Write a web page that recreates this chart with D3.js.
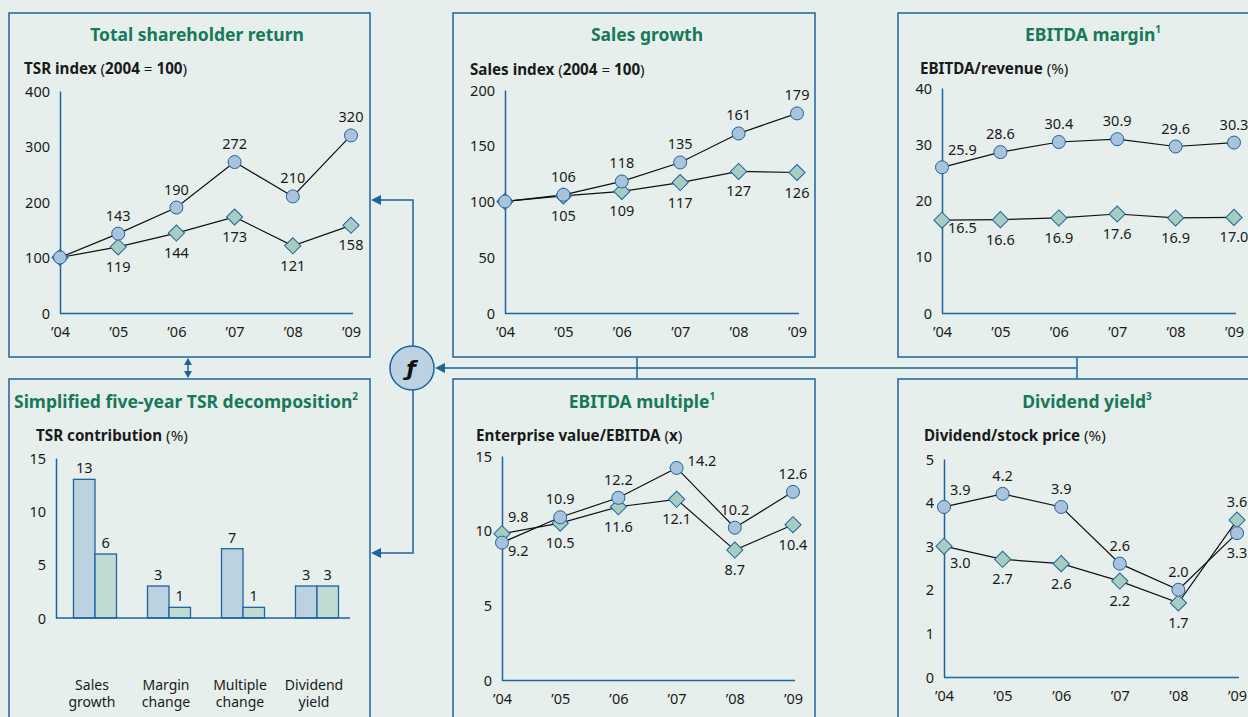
<!DOCTYPE html>
<html><head><meta charset="utf-8">
<script src="https://cdn.jsdelivr.net/npm/d3@7"></script>
<style>
html,body{margin:0;padding:0;background:#e6efec;}
svg{display:block;}
text{font-family:"Noto Sans",sans-serif;fill:#1a1a1a;}
</style></head>
<body>
<svg id="c" width="1248" height="717"></svg>
<script>
// ---------------- DATA ----------------
const years = ["\u201904","\u201905","\u201906","\u201907","\u201908","\u201909"];

const tsrCompany = [100,143,190,272,210,320];
const tsrPeer    = [100,119,144,173,121,158];
const tsrTicks   = [0,100,200,300,400];

const salesCompany = [100,106,118,135,161,179];
const salesPeer    = [100,105,109,117,127,126];
const salesTicks   = [0,50,100,150,200];

const marginCompany = [25.9,28.6,30.4,30.9,29.6,30.3];
const marginPeer    = [16.5,16.6,16.9,17.6,16.9,17.0];
const marginTicks   = [0,10,20,30,40];

const multipleCompany = [9.2,10.9,12.2,14.2,10.2,12.6];
const multiplePeer    = [9.8,10.5,11.6,12.1,8.7,10.4];
const multipleTicks   = [0,5,10,15];

const yieldCompany = [3.9,4.2,3.9,2.6,2.0,3.3];
const yieldPeer    = [3.0,2.7,2.6,2.2,1.7,3.6];
const yieldTicks   = [0,1,2,3,4,5];

const decompCategories = [["Sales","growth"],["Margin","change"],["Multiple","change"],["Dividend","yield"]];
const decompCompany = [13,3,6.5,3];
const decompPeer    = [6,1,1,3];
const decompTicks   = [0,5,10,15];

// ---------------- STYLE ----------------
const BLUE = "#1f63a0";
const GREEN_T = "#17785a";
const CIRCLE_FILL = "#a9c3da";
const DIAMOND_FILL = "#a6cdbf";
const BAR_BLUE = "#bcd2e1";
const BAR_GREEN = "#c0dbd2";

const svg = d3.select("#c");

// label placement offsets
const PL = {
  a:  {dx:0,  dy:-13, anchor:"middle"},
  b:  {dx:0,  dy:25,  anchor:"middle"},
  ru: {dx:6,  dy:-12, anchor:"start"},
  rd: {dx:6,  dy:13,  anchor:"start"},
  rdb:{dx:6,  dy:22,  anchor:"start"},
  r:  {dx:11, dy:-2,  anchor:"start"},
  n:  null
};

function drawBox(x,y,w,h){
  svg.append("rect").attr("x",x).attr("y",y).attr("width",w).attr("height",h)
    .attr("fill","none").attr("stroke",BLUE).attr("stroke-width",1.5);
}
function drawTitle(cx,y,txt,sup){
  const t = svg.append("text").attr("x",cx).attr("y",y).attr("text-anchor","middle")
    .style("font-size","17.5px").style("font-weight","700").style("fill",GREEN_T);
  t.append("tspan").text(txt).style("fill",GREEN_T);
  if(sup) t.append("tspan").text(sup).attr("dy",-8).style("font-size","10px").style("fill",GREEN_T);
}
function drawSubtitle(x,y,parts){
  const t = svg.append("text").attr("x",x).attr("y",y).style("font-size","15.2px");
  parts.forEach(p=>t.append("tspan").text(p[0]).style("font-weight",p[1]?"700":"400"));
}

function linePanel(cfg){
  drawBox(...cfg.box);
  drawTitle(cfg.titleX, cfg.titleY, cfg.title, cfg.sup);
  drawSubtitle(cfg.subX, cfg.subY, cfg.sub);
  const x = d3.scalePoint().domain(years).range(cfg.xr);
  const y = d3.scaleLinear().domain([cfg.ticks[0], cfg.ticks[cfg.ticks.length-1]]).range(cfg.yr);
  const g = svg.append("g");
  // y axis
  const ya = g.append("g").attr("transform",`translate(${cfg.xr[0]},0)`)
    .call(d3.axisLeft(y).tickValues(cfg.ticks).tickSize(0).tickSizeOuter(0).tickPadding(10).tickFormat(d3.format("d")));
  ya.select(".domain").attr("stroke",BLUE).attr("stroke-width",1.5);
  ya.selectAll("text").style("font-size","14.5px").style("font-family","Noto Sans").attr("dy","0.35em").style("fill","#1a1a1a");
  // x axis
  const xa = g.append("g").attr("transform",`translate(0,${cfg.yr[0]})`)
    .call(d3.axisBottom(x).tickSize(0).tickSizeOuter(0).tickPadding(14));
  xa.select(".domain").attr("stroke",BLUE).attr("stroke-width",1.5).attr("d",`M${cfg.xr[0]},0.5H${cfg.xr[1]+2}`);
  xa.selectAll("text").style("font-size","14.5px").style("font-family","Noto Sans").style("fill","#1a1a1a");
  const line = d3.line().x((d,i)=>x(years[i])).y(d=>y(d));
  [cfg.peer, cfg.comp].forEach(s=>{
    g.append("path").datum(s).attr("d",line).attr("fill","none").attr("stroke","#111").attr("stroke-width",1.2);
  });
  const dsym = d3.symbol(d3.symbolSquare, 130);
  g.selectAll(".dm").data(cfg.peer).join("path").attr("d",dsym)
    .attr("transform",(d,i)=>`translate(${x(years[i])},${y(d)}) rotate(45)`)
    .attr("fill",DIAMOND_FILL).attr("stroke",BLUE).attr("stroke-width",1);
  g.selectAll(".ci").data(cfg.comp).join("circle")
    .attr("cx",(d,i)=>x(years[i])).attr("cy",d=>y(d)).attr("r",6.5)
    .attr("fill",CIRCLE_FILL).attr("stroke",BLUE).attr("stroke-width",1);
  const labels = (vals,pl)=>{
    vals.forEach((v,i)=>{
      const p = PL[pl[i]]; if(!p) return;
      g.append("text").attr("x",x(years[i])+p.dx).attr("y",y(v)+p.dy).attr("text-anchor",p.anchor)
        .style("font-size","14.5px").text(cfg.fmt(v));
    });
  };
  labels(cfg.comp, cfg.compPl);
  labels(cfg.peer, cfg.peerPl);
}

const f0 = d3.format("d"), f1 = d3.format(".1f");

linePanel({box:[9,13,361,344], title:"Total shareholder return", titleX:197, titleY:41,
  sub:[["TSR index ",1],["(",0],["2004",1],[" = ",0],["100",1],[")",0]], subX:24, subY:74,
  xr:[60,351], yr:[313,91], ticks:tsrTicks, comp:tsrCompany, peer:tsrPeer, fmt:f0,
  compPl:["n","a","a","a","a","a"], peerPl:["n","b","b","b","b","b"]});

linePanel({box:[453,13,362,344], title:"Sales growth", titleX:647, titleY:41,
  sub:[["Sales index ",1],["(",0],["2004",1],[" = ",0],["100",1],[")",0]], subX:470, subY:75,
  xr:[505,797], yr:[313,90], ticks:salesTicks, comp:salesCompany, peer:salesPeer, fmt:f0,
  compPl:["n","a","a","a","a","a"], peerPl:["n","b","b","b","b","b"]});

linePanel({box:[898,13,400,344], title:"EBITDA margin", sup:"1", titleX:1093, titleY:41,
  sub:[["EBITDA/revenue",1],[" (%)",0]], subX:920, subY:74,
  xr:[942,1234], yr:[313,88], ticks:marginTicks, comp:marginCompany, peer:marginPeer, fmt:f1,
  compPl:["ru","a","a","a","a","a"], peerPl:["rd","b","b","b","b","b"]});

linePanel({box:[453,379,362,360], title:"EBITDA multiple", sup:"1", titleX:642, titleY:408,
  sub:[["Enterprise value/EBITDA ",1],["(",0],["x",1],[")",0]], subX:476, subY:441,
  xr:[502,793], yr:[680,456], ticks:multipleTicks, comp:multipleCompany, peer:multiplePeer, fmt:f1,
  compPl:["rd","a","a","r","a","a"], peerPl:["ru","b","b","b","b","b"]});

linePanel({box:[898,379,400,360], title:"Dividend yield", sup:"3", titleX:1087, titleY:408,
  sub:[["Dividend/stock price",1],[" (%)",0]], subX:924, subY:441,
  xr:[944,1237], yr:[677,459], ticks:yieldTicks, comp:yieldCompany, peer:yieldPeer, fmt:f1,
  compPl:["ru","a","a","a","a","b"], peerPl:["rdb","b","b","b","b","a"]});

// ---------------- BAR PANEL ----------------
(function(){
  drawBox(9,379,361,360);
  drawTitle(186,408,"Simplified five-year TSR decomposition","2");
  drawSubtitle(36,441,[["TSR contribution",1],[" (%)",0]]);
  const cats = decompCategories.map(d=>d.join(" "));
  const x = d3.scaleBand().domain(cats).range([58,354]);
  const xi = d3.scaleBand().domain([0,1]).range([0,43]);
  const y = d3.scaleLinear().domain([0,15]).range([618,458]);
  const g = svg.append("g");
  const ya = g.append("g").attr("transform","translate(56,0)")
    .call(d3.axisLeft(y).tickValues(decompTicks).tickSize(0).tickSizeOuter(0).tickPadding(10));
  ya.select(".domain").attr("stroke",BLUE).attr("stroke-width",1.5);
  ya.selectAll("text").style("font-size","14.5px").style("font-family","Noto Sans").attr("dy","0.35em").style("fill","#1a1a1a");
  const series = [decompCompany, decompPeer];
  const fills = [BAR_BLUE, BAR_GREEN];
  series.forEach((s,k)=>{
    g.selectAll(".b"+k).data(s).join("rect")
      .attr("x",(d,i)=>x(cats[i])+x.bandwidth()/2-21.5+xi(k))
      .attr("y",d=>y(d)).attr("width",xi.bandwidth()).attr("height",d=>y(0)-y(d))
      .attr("fill",fills[k]).attr("stroke",BLUE).attr("stroke-width",1.3);
    g.selectAll(".l"+k).data(s).join("text")
      .attr("x",(d,i)=>x(cats[i])+x.bandwidth()/2-21.5+xi(k)+xi.bandwidth()/2)
      .attr("y",d=>y(d)-6).attr("text-anchor","middle").style("font-size","14.5px")
      .text(d=>Math.round(d));
  });
  g.append("line").attr("x1",56).attr("x2",350).attr("y1",y(0)).attr("y2",y(0))
    .attr("stroke",BLUE).attr("stroke-width",1.5);
  decompCategories.forEach((c,i)=>{
    const cx = x(cats[i])+x.bandwidth()/2-3;
    g.append("text").attr("x",cx).attr("y",690).attr("text-anchor","middle").style("font-size","14px").text(c[0]);
    g.append("text").attr("x",cx).attr("y",707).attr("text-anchor","middle").style("font-size","14px").text(c[1]);
  });
})();

// ---------------- CONNECTORS ----------------
(function(){
  const ln = (pts)=>svg.append("path").attr("d",d3.line()(pts)).attr("fill","none")
    .attr("stroke",BLUE).attr("stroke-width",1.5);
  const arrowL = (x,y)=>svg.append("path").attr("d",`M${x},${y}l10,-5v10z`).attr("fill",BLUE);
  const arrowU = (x,y)=>svg.append("path").attr("d",`M${x},${y}l-4,7h8z`).attr("fill",BLUE);
  const arrowD = (x,y)=>svg.append("path").attr("d",`M${x},${y}l-4,-7h8z`).attr("fill",BLUE);
  ln([[188,359],[188,377]]); arrowU(188,358); arrowD(188,378);
  ln([[637,357],[637,379]]);
  ln([[1077,357],[1077,379]]);
  ln([[1077,368],[444,368]]); arrowL(435,368);
  ln([[413,346],[413,200],[380,200]]); arrowL(371,200);
  ln([[413,390],[413,553],[380,553]]); arrowL(371,553);
  svg.append("circle").attr("cx",412).attr("cy",368).attr("r",22)
    .attr("fill","#bcd2e2").attr("stroke",BLUE).attr("stroke-width",1.5);
  svg.append("text").attr("x",411).attr("y",376).attr("text-anchor","middle")
    .style("font-family","DejaVu Sans").style("font-weight","700").style("font-style","italic")
    .style("font-size","22px").style("fill","#111").text("\u0192");
})();
</script>
</body></html>
